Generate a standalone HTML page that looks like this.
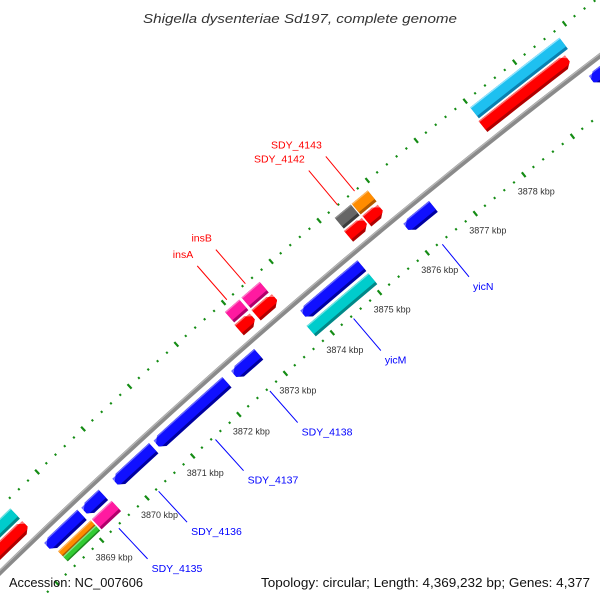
<!DOCTYPE html>
<html><head><meta charset="utf-8"><style>
html,body{margin:0;padding:0;background:#fff;overflow:hidden}
svg{display:block}
text{font-family:"Liberation Sans","DejaVu Sans",sans-serif}
</style></head><body>
<svg id="map" width="600" height="600" viewBox="0 0 600 600" xmlns="http://www.w3.org/2000/svg">
<rect width="600" height="600" fill="#fff"/>
<g id="ticks"></g>
<g id="backbone"></g>
<g id="features"></g>
<g id="labels"></g>
<text x="300" y="23" text-anchor="middle" font-size="13" font-style="italic" fill="#333" textLength="314" lengthAdjust="spacingAndGlyphs">Shigella dysenteriae Sd197, complete genome</text>
<text x="9" y="587" font-size="13" fill="#111" textLength="134" lengthAdjust="spacingAndGlyphs">Accession: NC_007606</text>
<text x="590" y="587" text-anchor="end" font-size="13" fill="#111" textLength="329" lengthAdjust="spacingAndGlyphs">Topology: circular; Length: 4,369,232 bp; Genes: 4,377</text>
</svg>
<script>
// ---- data ----
const tickKbp = [3866,3867,3868,3869,3870,3871,3872,3873,3874,3875,3876,3877,3878,3879,3880,3881];
const tickLabelKbp = [3869,3870,3871,3872,3873,3874,3875,3876,3877,3878];
const featStart = [3866.0,3872.90,3873.26,3875.20,3875.58,3877.97, 3866.0,3872.92,3873.27,3875.22,3875.57,3878.0, 3868.30,3869.12,3869.80,3870.70,3872.37,3873.84,3876.00,3879.80, 3868.37,3868.37,3869.12,3873.76,3880.10];
const featEnd   = [3868.29,3873.20,3873.67,3875.55,3875.88,3879.70, 3868.29,3873.22,3873.65,3875.55,3875.90,3879.80, 3869.05,3869.52,3870.62,3872.20,3872.88,3875.06,3876.55,3881.50, 3869.09,3869.09,3869.55,3875.06,3881.50];
const featTrack = [16,16,16,16,16,16, 32,32,32,32,32,32, -15,-15,-15,-15,-15,-15,-15,-15, -28.5,-35.5,-32,-32,-32];
const featHalf  = [7,7,7,7,7,7, 7,7,7,7,7,7, 7,7,7,7,7,7,7,7, 3.5,3.5,7,7,7];
const featDir   = [1,1,1,1,1,1, 0,0,0,0,0,0, -1,-1,-1,-1,-1,-1,-1,-1, 0,0,0,0,0];
const featColor = ['red','red','red','red','red','red','cyan','pink','pink','gray','orange','sky','blue','blue','blue','blue','blue','blue','blue','blue','orange','green','pink','cyan','cyan'];
const labelText = ['SDY_4143','SDY_4142','insB','insA','yicN','yicM','SDY_4138','SDY_4137','SDY_4136','SDY_4135'];
const labelFeat = [10,9,8,7,18,23,16,15,14,22];

const palette = {
  red:['#ff0000','#b00000','#ff7070'], blue:['#1010ff','#0000a0','#6a6aff'],
  cyan:['#00cccc','#008888','#70e4e4'], sky:['#1ec0f0','#0a80b0','#90e4ff'],
  pink:['#ff1aa0','#b0006a','#ff78c8'], gray:['#666666','#3c3c3c','#909090'],
  orange:['#ff8c00','#b05a00','#ffb860'], green:['#33cc33','#1f8a1f','#88e088']
};

// ---- geometry ----
const CX=4632, CY=5344, R=6650, TH0=-130.63, DPK=0.5385;
function pt(k,off){const t=(TH0+(k-3874)*DPK)*Math.PI/180;const r=R+off;return [CX+r*Math.cos(t),CY+r*Math.sin(t)];}
const NS='http://www.w3.org/2000/svg';
function mk(tag,attrs,parent){const e=document.createElementNS(NS,tag);for(const a in attrs)e.setAttribute(a,attrs[a]);parent.appendChild(e);return e;}
function arcPath(k0,k1,off){let d='';const n=40;for(let i=0;i<=n;i++){const p=pt(k0+(k1-k0)*i/n,off);d+=(i?'L':'M')+p[0].toFixed(2)+' '+p[1].toFixed(2);}return d;}

// backbone
const bb=document.getElementById('backbone');
const bb1=mk('path',{d:arcPath(3867.2,3880.6,0),stroke:'#8a8a8a','stroke-width':5,fill:'none'},bb);


const bb2=mk('path',{d:arcPath(3867.2,3880.6,1.6),stroke:'#b8b8b8','stroke-width':1.2,fill:'none'},bb);



// tick rings
const tg=document.getElementById('ticks');
[47,-47].forEach(function(off){
  for(let i=0;i<=80;i++){
    const k=3866+i*0.2;
    const major=(i%5===0);
    const a=pt(k,off+(major?3:1.1)), b=pt(k,off-(major?3:1.1));
    if(a[1]>596||b[1]>596||a[0]<0||b[0]<0||a[0]>600||a[1]<0) continue;
    const l=mk('line',{x1:a[0],y1:a[1],x2:b[0],y2:b[1],stroke:'#148c14','stroke-width':major?2.2:2},tg);
    
    
  }
});
tickLabelKbp.forEach(function(k){
  const p=pt(k,-47);
  const t=mk('text',{x:p[0]-6,y:p[1]+20,'font-size':9,fill:'#333'},tg);
  t.textContent=k+' kbp';
  
  
});

// features
const HD=0.096;
function shape(s,e,rc,h,lo,hi,dir){
  const pts=[];
  let bs=s, be=e;
  if(dir===1) be=e-HD; if(dir===-1) bs=s+HD;
  const n=Math.max(2,Math.ceil((be-bs)/0.4)+1);
  const hw=function(t){return h*(1-0.7*t);};
  if(dir===-1){for(let j=4;j>=1;j--){const t=j/4;pts.push(pt(bs-HD*t,Math.max(lo,rc-hw(t))));} }
  for(let i=0;i<n;i++){pts.push(pt(bs+(be-bs)*i/(n-1),lo));}
  if(dir===1){for(let j=1;j<=4;j++){const t=j/4;pts.push(pt(be+HD*t,Math.max(lo,rc-hw(t))));}
              for(let j=4;j>=1;j--){const t=j/4;pts.push(pt(be+HD*t,Math.min(hi,rc+hw(t))));} }
  for(let i=n-1;i>=0;i--){pts.push(pt(bs+(be-bs)*i/(n-1),hi));}
  if(dir===-1){for(let j=1;j<=4;j++){const t=j/4;pts.push(pt(bs-HD*t,Math.min(hi,rc+hw(t))));} }
  return pts.map(function(p){return p[0].toFixed(2)+','+p[1].toFixed(2);}).join(' ');
}
const fg=document.getElementById('features');
for(let i=0;i<featStart.length;i++){
  const s=featStart[i], e=featEnd[i], rc=featTrack[i], h=featHalf[i], dir=featDir[i];
  const c=palette[featColor[i]];
  const g=mk('g',{},fg);
  
  
  mk('polygon',{points:shape(s,e,rc,h,rc-h,rc+h,dir),fill:c[1]},g);
  const dark=h>5?3:1.5;
  mk('polygon',{points:shape(s,e,rc,h,rc-h+dark,rc+h,dir),fill:c[0]},g);
  mk('polygon',{points:shape(s,e,rc,h,rc+h-1.3,rc+h,dir),fill:c[2]},g);
}

// labels
const lg=document.getElementById('labels');
labelText.forEach(function(txt,j){
  const f=labelFeat[j];
  const mid=(featStart[f]+featEnd[f])/2;
  const fwd=featTrack[f]>0;
  const a=pt(mid,fwd?47:-50), b=pt(mid,fwd?92:-92);
  const col=fwd?'#ff0000':'#0000ff';
  const l=mk('line',{x1:a[0],y1:a[1],x2:b[0],y2:b[1],stroke:col,'stroke-width':1},lg);
  
  
  const t=mk('text',fwd?{x:b[0]-4,y:b[1]-8,'text-anchor':'end'}:{x:b[0]+4,y:b[1]+13},lg);
  t.setAttribute('font-size','10.5');
  t.setAttribute('fill',col);
  t.textContent=txt;
  
  
});
</script>
</body></html>
